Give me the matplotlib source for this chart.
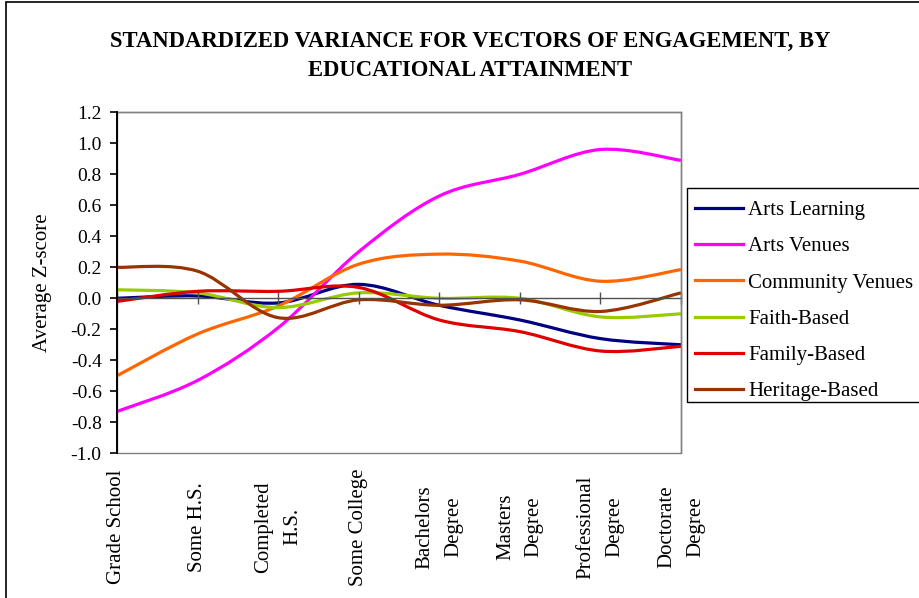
import numpy as np
import matplotlib
matplotlib.use('Agg')
from matplotlib import pyplot as plt
from matplotlib.path import Path
from matplotlib.patches import PathPatch, Rectangle
from matplotlib.lines import Line2D
from matplotlib.ticker import FuncFormatter

plt.rcParams['font.family'] = ['Liberation Serif', 'DejaVu Serif']
plt.rcParams['axes.unicode_minus'] = False

categories = ['Grade School', 'Some H.S.', 'Completed\nH.S.', 'Some College',
              'Bachelors\nDegree', 'Masters\nDegree', 'Professional\nDegree',
              'Doctorate\nDegree']

arts_learning = [0.00, 0.015, -0.03, 0.09, -0.045, -0.14, -0.26, -0.30]
arts_venues = [-0.73, -0.53, -0.19, 0.30, 0.66, 0.80, 0.96, 0.89]
community_venues = [-0.50, -0.23, -0.05, 0.22, 0.285, 0.24, 0.11, 0.185]
faith_based = [0.055, 0.035, -0.06, 0.035, 0.00, 0.00, -0.12, -0.10]
family_based = [-0.02, 0.045, 0.045, 0.07, -0.14, -0.215, -0.34, -0.31]
heritage_based = [0.20, 0.175, -0.125, -0.01, -0.045, -0.01, -0.085, 0.035]

series = [
    ('Arts Learning', arts_learning, '#000080'),
    ('Arts Venues', arts_venues, '#FF00FF'),
    ('Community Venues', community_venues, '#FF6600'),
    ('Faith-Based', faith_based, '#99CC00'),
    ('Family-Based', family_based, '#E00000'),
    ('Heritage-Based', heritage_based, '#993300'),
]


def smooth_path(x, y):
    # excel-like smoothed line: cubic bezier through the points
    pts = np.column_stack([x, y]).astype(float)
    ext = np.vstack([pts[0], pts, pts[-1]])
    verts = [pts[0]]
    codes = [Path.MOVETO]
    for i in range(len(pts) - 1):
        p0, p1, p2, p3 = ext[i], ext[i + 1], ext[i + 2], ext[i + 3]
        verts += [p1 + (p2 - p0) / 6.0, p2 - (p3 - p1) / 6.0, p2]
        codes += [Path.CURVE4] * 3
    return Path(verts, codes)


fig = plt.figure(figsize=(9.19, 5.98), dpi=100)
ax = fig.add_axes([0.1273, 0.2420, 0.6137, 0.5702])

x = np.arange(len(categories))
lw = 2.3
for name, vals, col in series:
    ax.add_patch(PathPatch(smooth_path(x, vals), fill=False, edgecolor=col,
                           linewidth=lw, capstyle='butt', joinstyle='round'))

ax.set_xlim(0, len(categories) - 1)
ax.set_ylim(-1.0, 1.2)

# plot area border
for s in ['top', 'right']:
    ax.spines[s].set_color('#808080')
    ax.spines[s].set_linewidth(1.0)
ax.add_patch(Rectangle((0, 0), 1, 1, transform=ax.transAxes, fill=False,
                       edgecolor='#808080', linewidth=1.0, clip_on=False, zorder=0))
ax.spines['left'].set_color('black')
ax.spines['left'].set_linewidth(1.4)
ax.spines['left'].set_zorder(5)
ax.spines['bottom'].set_position(('data', 0))
ax.spines['bottom'].set_color('#505050')
ax.spines['bottom'].set_linewidth(1.0)
ax.spines['bottom'].set_zorder(1)

ax.set_yticks(np.round(np.arange(-1.0, 1.21, 0.2), 1))
ax.yaxis.set_major_formatter(FuncFormatter(lambda v, p: '%.1f' % (round(v, 1) + 0.0)))
ax.tick_params(axis='y', direction='out', length=5, width=1.2, color='black',
               labelsize=14, pad=6)
ax.set_xticks(x)
ax.set_xticklabels([''] * len(categories))
ax.tick_params(axis='x', direction='inout', length=8, width=1.0, color='#505050')

for xi, lab in zip(x, categories):
    ax.text(xi, -0.216, lab, transform=ax.get_xaxis_transform(), rotation=90,
            ha='center', va='center', multialignment='center', fontsize=15,
            linespacing=1.7)

ax.set_ylabel('Average Z-score', fontsize=15)
ax.yaxis.set_label_coords(-0.115, 0.5)

fig.text(0.5114, 0.9064,
         'STANDARDIZED VARIANCE FOR VECTORS OF ENGAGEMENT, BY\nEDUCATIONAL ATTAINMENT',
         ha='center', va='center', fontsize=16.3, fontweight='bold', linespacing=1.45)

handles = [Line2D([], [], color=c, linewidth=lw) for _, _, c in series]
leg = fig.legend(handles, [n for n, _, _ in series], loc='upper left',
                 bbox_to_anchor=(695 / 919, 1 - 200.5 / 598), borderaxespad=0,
                 fontsize=15, frameon=False, handlelength=2.3,
                 handletextpad=0.24, labelspacing=0.80, borderpad=0)
fig.patches.append(Rectangle((687 / 919, 1 - 402 / 598), 0.5, 214 / 598,
                             transform=fig.transFigure, fill=False,
                             edgecolor='black', linewidth=1.0))

# outer chart border
fig.patches.append(Rectangle((6 / 919, -0.2), 1.2, 1.2 - 2 / 598,
                             transform=fig.transFigure, fill=False,
                             edgecolor='black', linewidth=1.2))

fig.savefig('out.png', dpi=100)
